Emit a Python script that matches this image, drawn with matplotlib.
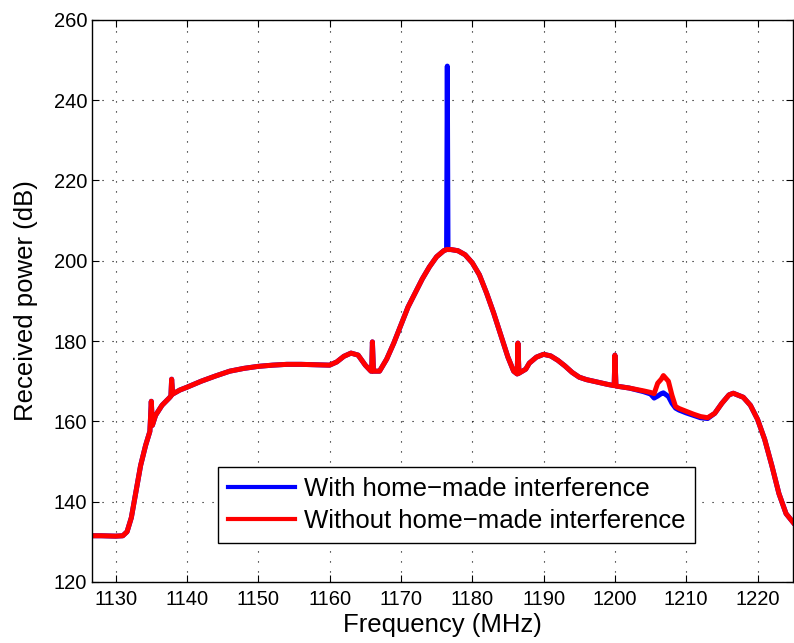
"""Received power spectrum with and without home-made interference."""

import matplotlib

matplotlib.use("Agg")
import matplotlib.pyplot as plt  # noqa: E402

# frequency grid (MHz) shared by both traces
freq = [
    1126.7, 1128, 1130, 1131, 1131.6, 1132.2, 1132.8, 1133.5, 1134.2, 1134.8,
    1135.0, 1135.15, 1135.6, 1136.5, 1137.5, 1137.75, 1137.85, 1138.0, 1139, 1140,
    1142, 1144, 1146, 1148, 1150, 1152, 1154, 1156, 1158, 1160,
    1161, 1162, 1163, 1164, 1165, 1165.8, 1165.9, 1166.0, 1166.15, 1167,
    1168, 1169, 1170, 1171, 1172, 1173, 1174, 1175, 1176, 1176.4,
    1176.5, 1176.6, 1177, 1178, 1179, 1180, 1181, 1182, 1183, 1184,
    1185, 1185.8, 1186.3, 1186.4, 1186.55, 1187.5, 1188, 1189, 1190, 1191,
    1192, 1193, 1194, 1195, 1196, 1197, 1198, 1199, 1199.9, 1200.0,
    1200.15, 1202, 1204, 1205, 1205.5, 1206, 1206.5, 1206.8, 1207.5, 1208.0,
    1208.5, 1209, 1210, 1211, 1212, 1213, 1214, 1215, 1216, 1216.6,
    1218, 1219, 1220, 1221, 1222, 1223, 1224, 1225,
]

# received power without the interferer (dB)
power_without = [
    131.5, 131.5, 131.4, 131.5, 132.5, 136.0, 142.0, 149.0, 154.0, 157.5,
    165.0, 159.0, 161.5, 164.0, 165.8, 166.3, 170.5, 166.8, 167.8, 168.5,
    170.0, 171.3, 172.5, 173.2, 173.7, 174.0, 174.2, 174.2, 174.1, 174.0,
    174.8, 176.2, 177.0, 176.5, 174.0, 172.5, 172.5, 179.8, 172.5, 172.5,
    175.5, 179.5, 184.0, 188.5, 192.0, 195.5, 198.5, 201.0, 202.5, 202.8,
    202.8, 202.8, 202.8, 202.5, 201.5, 199.5, 196.5, 192.0, 187.0, 181.5,
    176.0, 172.5, 171.8, 179.5, 172.0, 173.0, 174.5, 176.0, 176.7, 176.3,
    175.2, 173.8, 172.2, 171.0, 170.4, 170.0, 169.6, 169.2, 168.9, 176.5,
    168.8, 168.3, 167.6, 167.2, 166.9, 169.5, 170.5, 171.4, 170.0, 166.5,
    163.7, 163.2, 162.5, 161.8, 161.2, 160.9, 162.0, 164.5, 166.6, 167.0,
    166.0, 164.0, 160.5, 155.5, 149.0, 142.0, 137.0, 134.8,
]

# received power with the interferer switched on (dB)
power_with = [
    131.5, 131.5, 131.4, 131.5, 132.5, 136.0, 142.0, 149.0, 154.0, 157.5,
    165.0, 159.0, 161.5, 164.0, 165.8, 166.3, 170.5, 166.8, 167.8, 168.5,
    170.0, 171.3, 172.5, 173.2, 173.7, 174.0, 174.2, 174.2, 174.1, 174.0,
    174.8, 176.2, 177.0, 176.5, 174.0, 172.5, 172.5, 179.8, 172.5, 172.5,
    175.5, 179.5, 184.0, 188.5, 192.0, 195.5, 198.5, 201.0, 202.5, 202.8,
    248.5, 202.8, 202.8, 202.5, 201.5, 199.5, 196.5, 192.0, 187.0, 181.5,
    176.0, 172.5, 171.8, 179.5, 172.0, 173.0, 174.5, 176.0, 176.7, 176.3,
    175.2, 173.8, 172.2, 171.0, 170.4, 170.0, 169.6, 169.2, 168.9, 176.5,
    168.8, 168.3, 167.4, 166.8, 165.8, 166.3, 166.9, 167.1, 166.2, 164.5,
    163.3, 162.8, 162.1, 161.5, 160.9, 160.7, 162.0, 164.5, 166.6, 167.0,
    166.0, 164.0, 160.5, 155.5, 149.0, 142.0, 137.0, 134.8,
]

x_ticks = [1130, 1140, 1150, 1160, 1170, 1180, 1190, 1200, 1210, 1220]
y_ticks = [120, 140, 160, 180, 200, 220, 240, 260]

plt.rcParams["font.family"] = ["Liberation Sans", "DejaVu Sans"]

fig = plt.figure(figsize=(7.94, 6.43), dpi=100)
ax = fig.add_axes([0.116, 0.095, 0.883, 0.874])

ax.plot(freq, power_with, color="#0000ff", linewidth=3.6,
        label="With home\u2212made interference")
ax.plot(freq, power_without, color="#ff0000", linewidth=3.6,
        label="Without home\u2212made interference")

ax.set_xlim(1126.7, 1225)
ax.set_ylim(120, 260)
ax.set_xticks(x_ticks)
ax.set_yticks(y_ticks)
ax.tick_params(direction="in", labelsize=14.5, length=5, width=0.8,
               top=True, right=True)
ax.tick_params(axis="x", pad=6)
ax.grid(True, linestyle=(0, (1, 8)), color="black", linewidth=0.8)
for s in ax.spines.values():
    s.set_linewidth(1.0)

ax.set_xlabel("Frequency (MHz)", fontsize=18.5, labelpad=3)
ax.set_ylabel("Received power (dB)", fontsize=18.5, labelpad=11)

leg = ax.legend(loc="lower left", bbox_to_anchor=(0.179, 0.069), fontsize=18.5,
                handlelength=2.6, fancybox=False, framealpha=1,
                borderaxespad=0, borderpad=0.4, labelspacing=0.3,
                handletextpad=0.35)
leg.get_frame().set_edgecolor("black")
leg.get_frame().set_linewidth(1.0)
for line in leg.get_lines():
    line.set_linewidth(3.0)

fig.savefig("out.png", dpi=100)
plt.close(fig)
